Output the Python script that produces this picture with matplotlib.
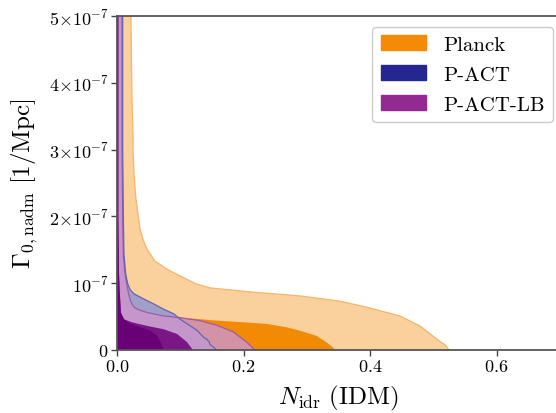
import numpy as np
import matplotlib
matplotlib.use("Agg")
import matplotlib.pyplot as plt
from matplotlib.patches import Patch
from matplotlib.ticker import FixedLocator, FixedFormatter

plt.rcParams['mathtext.fontset'] = 'cm'
plt.rcParams['font.family'] = ['cmr10', 'DejaVu Serif']
plt.rcParams['axes.formatter.use_mathtext'] = True

SCALE = 1e-7

# Boundaries of the filled credible regions (N_idr, Gamma in units of 1e-7)
planck95_x = [0.022, 0.022, 0.0237, 0.0250, 0.0256, 0.0253, 0.027, 0.030, 0.0364, 0.041, 0.0474, 0.060,
              0.079, 0.0996, 0.125, 0.147, 0.179, 0.21, 0.289, 0.353, 0.395, 0.447, 0.479, 0.506,
              0.519, 0.525]
planck95_y = [5.2, 5.0, 3.76, 3.3, 3.1, 3.0, 2.6, 2.26, 1.81, 1.66, 1.51, 1.33,
              1.21, 1.11, 0.99, 0.93, 0.90, 0.87, 0.81, 0.73, 0.64, 0.51, 0.36, 0.16,
              0.075, 0.0]

planck68_x = [0.003, 0.004, 0.006, 0.01, 0.03, 0.094, 0.12, 0.158, 0.200, 0.237, 0.268, 0.289,
              0.316, 0.331, 0.340, 0.345]
planck68_y = [5.2, 2.0, 1.2, 0.9, 0.6, 0.49, 0.47, 0.44, 0.415, 0.39, 0.34, 0.29,
              0.21, 0.115, 0.05, 0.0]

pact95_x = [0.009, 0.009, 0.010, 0.011, 0.0137, 0.017, 0.021, 0.027, 0.043, 0.058, 0.074, 0.090,
            0.100, 0.116, 0.127, 0.135, 0.138, 0.141, 0.146, 0.147, 0.150, 0.152, 0.157]
pact95_y = [5.2, 3.0, 2.0, 1.44, 1.14, 0.99, 0.9, 0.84, 0.76, 0.69, 0.61, 0.54,
            0.46, 0.36, 0.29, 0.21, 0.18, 0.17, 0.12, 0.08, 0.06, 0.05, 0.0]

lb95_x = [0.008, 0.008, 0.009, 0.010, 0.012, 0.014, 0.019, 0.022, 0.027, 0.035, 0.048, 0.074,
          0.095, 0.131, 0.158, 0.184, 0.205, 0.218]
lb95_y = [5.2, 3.0, 2.0, 1.44, 1.2, 1.06, 0.81, 0.72, 0.64, 0.60, 0.56, 0.51,
          0.49, 0.44, 0.37, 0.27, 0.12, 0.0]

lb68_x = [0.0025, 0.0025, 0.003, 0.004, 0.005, 0.006, 0.011, 0.022, 0.030, 0.048, 0.074, 0.095,
          0.111, 0.120]
lb68_y = [5.2, 2.0, 1.2, 0.9, 0.76, 0.56, 0.46, 0.42, 0.40, 0.36, 0.31, 0.24,
          0.115, 0.0]

pact68_x = [0.0015, 0.0015, 0.003, 0.004, 0.005, 0.006, 0.011, 0.022, 0.037, 0.053, 0.064, 0.069, 0.074]
pact68_y = [5.2, 2.0, 1.2, 0.9, 0.76, 0.56, 0.46, 0.39, 0.34, 0.29, 0.21, 0.115, 0.0]

x_ticks = [0.0, 0.2, 0.4, 0.6]
x_tick_labels = [r'$0.0$', r'$0.2$', r'$0.4$', r'$0.6$']
y_ticks = [0, 1, 2, 3, 4, 5]
y_tick_labels = [r'$0$', r'$10^{-7}$', r'$2{\times}10^{-7}$', r'$3{\times}10^{-7}$',
                 r'$4{\times}10^{-7}$', r'$5{\times}10^{-7}$']

legend_labels = ['Planck', 'P-ACT', 'P-ACT-LB']
legend_colors = ['#f58a07', '#262691', '#922a92']


def region(ax, xs, ys, fc, alpha=1.0, ec=None, lw=0.9, z=1):
    xs = np.asarray(xs)
    ys = np.asarray(ys) * SCALE
    px = np.concatenate([[0.0], xs, [0.0]])
    py = np.concatenate([[ys[0]], ys, [0.0]])
    ax.fill(px, py, facecolor=fc, alpha=alpha, edgecolor='none', zorder=z)
    if ec is not None:
        ax.plot(xs, ys, color=ec, lw=lw, zorder=z + 0.1)


fig = plt.figure(figsize=(5.56, 4.14), dpi=100)
ax = fig.add_axes([117 / 556, 63 / 414, 442.75 / 556, 334 / 414])

region(ax, planck95_x, planck95_y, '#fad09d', ec='#f8b468', z=1)
region(ax, planck68_x, planck68_y, '#f28a06', z=2)
region(ax, pact95_x, pact95_y, '#a09fc7', z=3)
region(ax, lb95_x, lb95_y, '#cd95ca', alpha=0.82, ec='#9e5aab', z=4)
ax.plot(pact95_x, np.asarray(pact95_y) * SCALE, color='#6464b4', lw=0.9, zorder=4.2)
region(ax, lb68_x, lb68_y, '#7b1686', z=5)
region(ax, pact68_x, pact68_y, '#6a0077', z=6)

ax.set_xlim(0, 0.7)
ax.set_ylim(0, 5 * SCALE)

ax.xaxis.set_major_locator(FixedLocator(x_ticks))
ax.xaxis.set_major_formatter(FixedFormatter(x_tick_labels))
ax.yaxis.set_major_locator(FixedLocator([v * SCALE for v in y_ticks]))
ax.yaxis.set_major_formatter(FixedFormatter(y_tick_labels))

for s in ['left', 'bottom', 'top']:
    ax.spines[s].set_color('#555555')
    ax.spines[s].set_linewidth(1.3)
    ax.spines[s].set_zorder(10)
ax.spines['right'].set_visible(False)
ax.tick_params(direction='out', length=4, width=1, color='#444444', labelsize=13, pad=2)

ax.set_xlabel(r'$N_{\mathrm{idr}}\ (\mathrm{IDM})$', fontsize=18, labelpad=6)
ax.set_ylabel(r'$\Gamma_{0,\mathrm{nadm}}\ [1/\mathrm{Mpc}]$', fontsize=18, labelpad=6)

handles = [Patch(facecolor=c, edgecolor=c) for c in legend_colors]
leg = ax.legend(handles, legend_labels, loc='upper right',
                bbox_to_anchor=(553 / 556, 1 - 27.7 / 414), bbox_transform=fig.transFigure,
                borderaxespad=0, fontsize=15, handlelength=2.2, labelspacing=0.55,
                framealpha=1, edgecolor='#cccccc', fancybox=True)
leg.set_zorder(20)

fig.savefig('out.png', dpi=100)
